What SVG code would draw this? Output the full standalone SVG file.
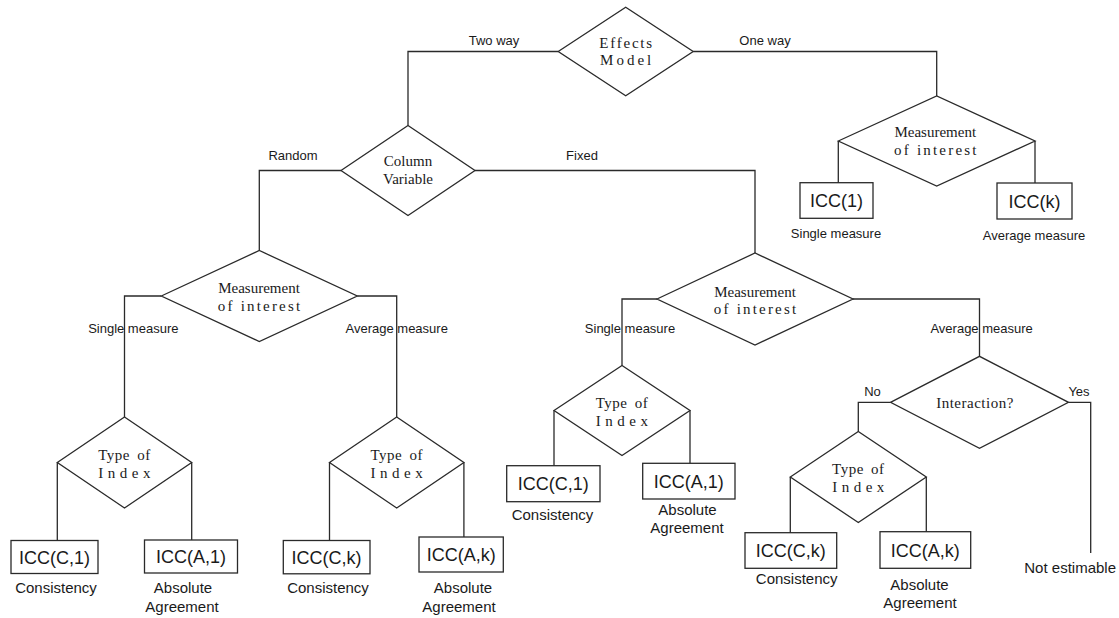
<svg xmlns="http://www.w3.org/2000/svg" width="1119" height="618" viewBox="0 0 1119 618">
<style>
.bg{fill:#ffffff}
.dia{fill:none;stroke:#2a2a2a;stroke-width:1.3}
.box{fill:none;stroke:#2a2a2a;stroke-width:1.3}
.ln{fill:none;stroke:#2a2a2a;stroke-width:1.3}
.ser{font-family:"Liberation Serif","Times New Roman",serif;font-size:15px;fill:#1a1a1a;text-anchor:middle}
.lab{font-family:"Liberation Sans",Arial,sans-serif;font-size:13px;fill:#1a1a1a;text-anchor:middle}
.icc{font-family:"Liberation Sans",Arial,sans-serif;font-size:18px;fill:#1a1a1a;text-anchor:middle}
.cap{font-family:"Liberation Sans",Arial,sans-serif;font-size:15px;fill:#1a1a1a;text-anchor:middle}
</style>
<rect class="bg" x="0" y="0" width="1119" height="618"/>

<g id="connectors">
  <polyline class="ln" points="558.2,51.5 408,51.5 408,125.5"/>
  <polyline class="ln" points="693.2,51.5 936.7,51.5 936.7,96"/>
  <polyline class="ln" points="838.3,141 838.3,182.7"/>
  <polyline class="ln" points="1035,141 1035,183"/>
  <polyline class="ln" points="341,170.5 259.3,170.5 259.3,250.5"/>
  <polyline class="ln" points="475,170.5 755,170.5 755,253"/>
  <polyline class="ln" points="161.3,296 124.5,296 124.5,417"/>
  <polyline class="ln" points="357.3,296 396.7,296 396.7,417"/>
  <polyline class="ln" points="57.3,462.5 57.3,540.5"/>
  <polyline class="ln" points="191.7,462.5 191.7,540"/>
  <polyline class="ln" points="329.5,462.5 329.5,540.5"/>
  <polyline class="ln" points="463.9,462.5 463.9,537"/>
  <polyline class="ln" points="657,299 622,299 622,365.5"/>
  <polyline class="ln" points="853,299 979.5,299 979.5,356.3"/>
  <polyline class="ln" points="554,410.5 554,465.7"/>
  <polyline class="ln" points="690,410.5 690,463.3"/>
  <polyline class="ln" points="890.5,402.3 858.3,402.3 858.3,431.5"/>
  <polyline class="ln" points="1068.5,402.3 1090.7,402.3 1090.7,553"/>
  <polyline class="ln" points="790.3,477 790.3,532.7"/>
  <polyline class="ln" points="926.3,477 926.3,531.7"/>
  <text class="lab" x="494" y="45">Two way</text>
  <text class="lab" x="765" y="45">One way</text>
  <text class="lab" x="293" y="160">Random</text>
  <text class="lab" x="582" y="160">Fixed</text>
  <text class="lab" x="133.3" y="333">Single measure</text>
  <text class="lab" x="396.7" y="333">Average measure</text>
  <text class="lab" x="630" y="333">Single measure</text>
  <text class="lab" x="981.6" y="333">Average measure</text>
  <text class="lab" x="872.5" y="396">No</text>
  <text class="lab" x="1079" y="396">Yes</text>
</g>

<g id="effects-model">
  <polygon class="dia" points="558.2,51.5 625.7,7.3 693.2,51.5 625.7,95.7"/>
  <text class="ser" x="626.6" y="47.7" letter-spacing="1.75">Effects</text>
  <text class="ser" x="627.2" y="65" letter-spacing="3">Model</text>
</g>

<g id="column-variable">
  <polygon class="dia" points="341,170.5 408,125.5 475,170.5 408,215.5"/>
  <text class="ser" x="408" y="166">Column</text>
  <text class="ser" x="408" y="184">Variable</text>
</g>

<g id="moi-oneway">
  <polygon class="dia" points="838.3,141 936.7,96 1035,141 936.7,186"/>
  <text class="ser" x="935.3" y="137.3">Measurement</text>
  <text class="ser" x="936.4" y="155" letter-spacing="2.2">of interest</text>
</g>

<g id="icc-1">
  <rect class="box" x="800" y="182.7" width="73" height="35.6"/>
  <text class="icc" x="836.5" y="207">ICC(1)</text>
  <text class="lab" x="836" y="238">Single measure</text>
</g>

<g id="icc-k">
  <rect class="box" x="997" y="183" width="75" height="36"/>
  <text class="icc" x="1034.5" y="207.5">ICC(k)</text>
  <text class="lab" x="1034" y="240">Average measure</text>
</g>

<g id="moi-random">
  <polygon class="dia" points="161.3,296 259.3,250.5 357.3,296 259.3,341.5"/>
  <text class="ser" x="259" y="292.7">Measurement</text>
  <text class="ser" x="260.1" y="310.7" letter-spacing="2.2">of interest</text>
</g>

<g id="moi-fixed">
  <polygon class="dia" points="657,299 755,253 853,299 755,345"/>
  <text class="ser" x="755" y="297">Measurement</text>
  <text class="ser" x="756.1" y="314" letter-spacing="2.2">of interest</text>
</g>

<g id="toi-random-single">
  <polygon class="dia" points="57.3,462.5 124.5,417 191.7,462.5 124.5,508"/>
  <text class="ser" x="124.5" y="459.5" letter-spacing="0.5" word-spacing="3">Type of</text>
  <text class="ser" x="126.7" y="477.5" letter-spacing="4.5">Index</text>
</g>

<g id="toi-random-average">
  <polygon class="dia" points="329.5,462.5 396.7,417 463.9,462.5 396.7,508"/>
  <text class="ser" x="396.7" y="459.5" letter-spacing="0.5" word-spacing="3">Type of</text>
  <text class="ser" x="398.9" y="477.5" letter-spacing="4.5">Index</text>
</g>

<g id="toi-fixed-single">
  <polygon class="dia" points="554,410.5 622,365.5 690,410.5 622,455.5"/>
  <text class="ser" x="622" y="407.5" letter-spacing="0.5" word-spacing="3">Type of</text>
  <text class="ser" x="624.2" y="425.5" letter-spacing="4.5">Index</text>
</g>

<g id="interaction">
  <polygon class="dia" points="890.5,402.3 979.5,356.3 1068.5,402.3 979.5,448.3"/>
  <text class="ser" x="975" y="408" font-size="16" letter-spacing="0.5">Interaction?</text>
</g>

<g id="toi-fixed-average">
  <polygon class="dia" points="790.3,477 858.3,431.5 926.3,477 858.3,522.5"/>
  <text class="ser" x="858.3" y="474" letter-spacing="0.5" word-spacing="3">Type of</text>
  <text class="ser" x="860.5" y="492" letter-spacing="4.5">Index</text>
</g>

<g id="icc-c1-random">
  <rect class="box" x="11" y="540.5" width="87" height="33"/>
  <text class="icc" x="54.5" y="563.5">ICC(C,1)</text>
  <text class="cap" x="56" y="593">Consistency</text>
</g>

<g id="icc-a1-random">
  <rect class="box" x="144.5" y="540" width="93" height="33"/>
  <text class="icc" x="191" y="563">ICC(A,1)</text>
  <text class="cap" x="183" y="593">Absolute</text>
  <text class="cap" x="182" y="612">Agreement</text>
</g>

<g id="icc-ck-random">
  <rect class="box" x="283.3" y="540.5" width="86.7" height="33.3"/>
  <text class="icc" x="326.6" y="563.5">ICC(C,k)</text>
  <text class="cap" x="328" y="593">Consistency</text>
</g>

<g id="icc-ak-random">
  <rect class="box" x="419" y="537" width="84.3" height="35"/>
  <text class="icc" x="461.2" y="561">ICC(A,k)</text>
  <text class="cap" x="463" y="593">Absolute</text>
  <text class="cap" x="459" y="612">Agreement</text>
</g>

<g id="icc-c1-fixed">
  <rect class="box" x="506.7" y="465.7" width="93.3" height="36"/>
  <text class="icc" x="553.3" y="490.2">ICC(C,1)</text>
  <text class="cap" x="552.5" y="520">Consistency</text>
</g>

<g id="icc-a1-fixed">
  <rect class="box" x="642.7" y="463.3" width="92.3" height="35.7"/>
  <text class="icc" x="688.8" y="487.7">ICC(A,1)</text>
  <text class="cap" x="687.5" y="515">Absolute</text>
  <text class="cap" x="687" y="533">Agreement</text>
</g>

<g id="icc-ck-fixed">
  <rect class="box" x="745" y="532.7" width="91.7" height="35.6"/>
  <text class="icc" x="790.8" y="557">ICC(C,k)</text>
  <text class="cap" x="796.7" y="584">Consistency</text>
</g>

<g id="icc-ak-fixed">
  <rect class="box" x="880" y="531.7" width="90.7" height="36.6"/>
  <text class="icc" x="925.3" y="556.5">ICC(A,k)</text>
  <text class="cap" x="919.5" y="590">Absolute</text>
  <text class="cap" x="920" y="608">Agreement</text>
</g>

<g id="not-estimable">
  <text class="cap" x="1116" y="573" font-size="13" style="text-anchor:end">Not estimable</text>
</g>
</svg>
